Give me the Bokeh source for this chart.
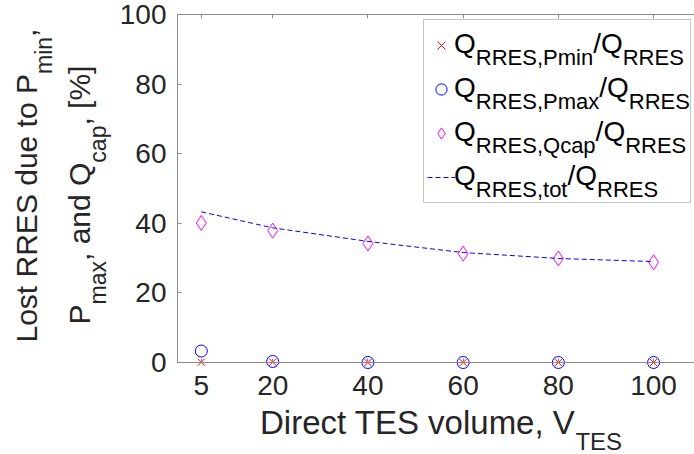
import math
from bokeh.plotting import figure
from bokeh.models import (Range1d, LinearAxis, Label, Legend, LegendItem, FixedTicker,
                          CustomJSTickFormatter)
from bokeh.core.properties import value
from bokeh.embed import file_html
from bokeh.resources import INLINE

# ---------------- data ----------------
vtes = [5, 20, 40, 60, 80, 100]
q_pmin = [0.1, 0.1, 0.0, 0.0, 0.0, 0.0]
q_pmax = [3.3, 0.3, 0.0, 0.0, 0.0, 0.0]
q_qcap = [40.1, 37.9, 34.2, 31.3, 29.9, 28.8]
q_tot = [43.3, 38.7, 34.8, 31.6, 29.9, 29.0]
x_ticks = [5, 20, 40, 60, 80, 100]
y_ticks = [0, 20, 40, 60, 80, 100]
legend_subs = ["RRES,Pmin", "RRES,Pmax", "RRES,Qcap", "RRES,tot"]

FONT = "Liberation Sans"
TXT = "#262626"
AX = "#8c8c8c"

# ---------------- geometry (canvas px) ----------------
W, H = 694, 454
AX_LEFT, AX_RIGHT = 177, 694      # x = 0 and right end of the axes box
AX_TOP, AX_BOTTOM = 14, 362       # y = 100 and y = 0
X_AX_END = 108.6
S_X = (AX_RIGHT - AX_LEFT) / X_AX_END
S_Y = (AX_BOTTOM - AX_TOP) / 100.0
X_START = -AX_LEFT / S_X
X_END = (W - AX_LEFT) / S_X
Y_END = AX_BOTTOM / S_Y
Y_START = -(H - AX_BOTTOM) / S_Y

# empirical baseline correction of Label placement (fraction of font size)
SHIFT_H = 0.38
SHIFT_V = 0.46


def dx(px):
    return X_START + px / S_X


def dy(py):
    return (AX_BOTTOM - py) / S_Y


CW = {' ': 278, ',': 278, '/': 278, '%': 889, '[': 278, ']': 278,
      'D': 722, 'E': 667, 'L': 556, 'P': 667, 'Q': 778, 'R': 722, 'S': 667,
      'T': 611, 'V': 667, 'a': 556, 'c': 500, 'd': 556, 'e': 556, 'i': 222,
      'l': 222, 'm': 833, 'n': 556, 'o': 556, 'p': 556, 'r': 333, 's': 500,
      't': 278, 'u': 556, 'v': 500, 'x': 500}


def tw(s, size):
    return sum(CW.get(c, 556) for c in s) / 1000.0 * size


p = figure(width=W, height=H, output_backend="svg", toolbar_location=None,
           x_range=Range1d(X_START, X_END), y_range=Range1d(Y_START, Y_END),
           min_border_left=0, min_border_right=0, min_border_top=0, min_border_bottom=0)
p.outline_line_color = None
p.xgrid.visible = False
p.ygrid.visible = False
p.background_fill_color = "white"
p.border_fill_color = "white"

for ax in p.xaxis + p.yaxis:
    ax.axis_line_color = AX
    ax.major_tick_line_color = AX
    ax.major_tick_in = 4
    ax.major_tick_out = 0
    ax.minor_tick_line_color = None
    ax.major_label_text_font = FONT
    ax.major_label_text_font_size = "28px"
    ax.major_label_text_color = TXT

p.xaxis.ticker = FixedTicker(ticks=x_ticks)
p.xaxis.fixed_location = 0
p.xaxis.bounds = (0, X_AX_END)
p.xaxis.major_label_standoff = 13
p.yaxis.ticker = FixedTicker(ticks=y_ticks)
p.yaxis.fixed_location = 0
p.yaxis.bounds = (0, 100)
p.yaxis.major_label_standoff = 11

top = LinearAxis(ticker=FixedTicker(ticks=x_ticks), axis_line_color=AX,
                 major_tick_line_color=AX, major_tick_in=4, major_tick_out=0,
                 minor_tick_line_color=None,
                 formatter=CustomJSTickFormatter(code="return ''"),
                 major_label_standoff=0, fixed_location=100, bounds=(0, X_AX_END))
p.add_layout(top, "above")

r_pmin = p.scatter(vtes, q_pmin, marker="x", size=10, line_color="#ff0000", line_width=1)
r_pmax = p.scatter(vtes, q_pmax, marker="circle", size=12, line_color="#0000ff",
                   fill_color=None, line_width=1)
r_qcap = p.scatter(vtes, q_qcap, marker="diamond", size=15, line_color="#ff00ff",
                   fill_color=None, line_width=1)
r_tot = p.line(vtes, q_tot, line_color="#0000ff", line_dash="5 3", line_width=1)

LEG_LEFT, LEG_BOTTOM = 423, 203
legend = Legend(items=[LegendItem(label=value(""), renderers=[r], index=0)
                       for r in (r_pmin, r_pmax, r_qcap, r_tot)],
                location=(LEG_LEFT, H - LEG_BOTTOM), margin=0, padding=3, spacing=0,
                glyph_width=28, glyph_height=44, label_height=44, label_width=229,
                label_standoff=3, border_line_color=AX, border_line_width=1,
                background_fill_color="white", background_fill_alpha=0.0)
p.add_layout(legend)


def rich_label(px, py, segs, angle=0.0, color=TXT):
    pos = 0.0
    for text, size, drop in segs:
        if angle == 0.0:
            X, Y = px + pos, py + drop - SHIFT_H * size
        else:
            X, Y = px + drop - SHIFT_V * size, py - pos
        p.add_layout(Label(x=dx(X), y=dy(Y), text=text, angle=angle, text_font=FONT,
                           text_font_size=f"{size}px", text_color=color,
                           text_baseline="alphabetic", text_align="left", level="overlay"))
        pos += tw(text, size)


# y-axis label (two rotated lines)
rich_label(39.5, 342, [("Lost RRES due to P", 30, 0), ("min", 23, 15), (",", 30, 0)], angle=math.pi / 2)
rich_label(93, 324, [("P", 30, 0), ("max", 23, 15), (", and Q", 30, 0), ("cap", 23, 15),
                     (", [%]", 30, 0)], angle=math.pi / 2)
# x-axis label
rich_label(259.5, 435, [("Direct TES volume, V", 33, 0), ("TES", 24, 15)])

# legend texts
LEG_TOP = 21
row_centers = [LEG_TOP + 3 + 22 + 44 * i for i in range(4)]
for c, sub in zip(row_centers, legend_subs):
    rich_label(453.5, c + 8, [("Q", 28, 0), (sub, 22, 11), ("/Q", 28, 0), ("RRES", 22, 11)],
               color="#000000")

open("out.html", "w").write(file_html(p, INLINE))
